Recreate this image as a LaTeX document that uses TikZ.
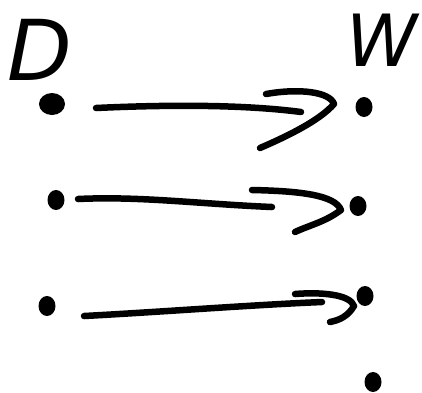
\documentclass[tikz,border=0pt]{standalone}
\usepackage{fontspec}
\setmainfont{DejaVu Sans}
\usetikzlibrary{shapes.geometric}
\begin{document}
\begin{tikzpicture}[x=1pt,y=-1pt,
  ink/.style={line width=6.5pt,line cap=round,line join=round,black},
  pt/.style={ellipse,fill=black,draw=none,inner sep=0pt,minimum width=17pt,minimum height=20pt},
  lbl/.style={inner sep=0pt,font=\fontsize{84}{84}\selectfont\itshape}]
\useasboundingbox (0,0) rectangle (422,392);
% labels
\node[lbl] (D) at (40,50) {D};
\node[lbl,font=\fontsize{72}{72}\selectfont\itshape] (W) at (382,40) {W};
% dots
\node[pt,minimum width=26pt,minimum height=22pt] (a1) at (52,104) {};
\node[pt] (b1) at (364,107) {};
\node[pt] (a2) at (56,200) {};
\node[pt] (b2) at (358,206) {};
\node[pt] (a3) at (47,306) {};
\node[pt] (b3) at (365,296) {};
\node[pt] (b4) at (373,382) {};
% arrow shafts
\coordinate (s1) at (96,108);
\coordinate (e1) at (301,112);
\coordinate (s2) at (78,199);
\coordinate (e2) at (272,207);
\coordinate (s3) at (84,316);
\coordinate (e3) at (322,302);
\draw[ink] (s1) .. controls (160,105) and (240,104) .. (e1);
\draw[ink] (s2) .. controls (140,196) and (200,204) .. (e2);
\draw[ink] (s3) .. controls (160,312) and (250,305) .. (e3);
% hand-drawn heads
\draw[ink] (266,94) .. controls (300,88) and (330,92) .. (334,104) .. controls (320,120) and (290,135) .. (260,148);
\draw[ink] (252,190) .. controls (300,191) and (335,195) .. (341,210) .. controls (325,222) and (310,225) .. (295,232);
\draw[ink] (295,294) .. controls (320,292) and (350,294) .. (354,306) .. controls (348,316) and (340,320) .. (330,322);
\end{tikzpicture}
\end{document}
